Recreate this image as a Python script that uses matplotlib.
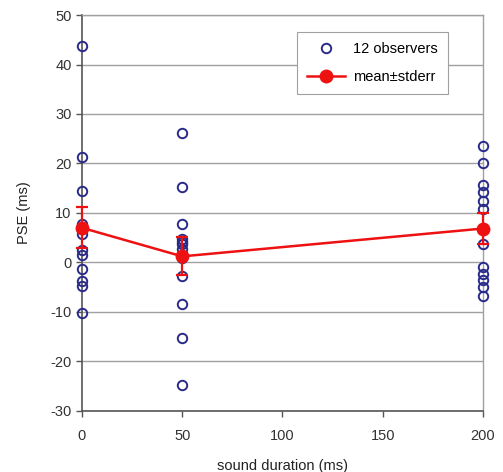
"""PSE versus sound duration, 12 observers plus mean and standard error."""

import matplotlib.pyplot as plt
import numpy as np
from matplotlib.lines import Line2D

durations = [0, 50, 200]
pse_0 = [43.8, 21.3, 14.5, 7.8, 6.8, 5.8, 2.4, 1.4, -1.4, -3.7, -4.8, -10.2]
pse_50 = [26.2, 15.3, 7.8, 4.8, 4.2, 3.8, 2.7, 0.9, -2.7, -8.5, -15.3, -24.8]
pse_200 = [23.6, 20.1, 15.6, 14.2, 12.5, 10.8, 3.8, -0.9, -2.3, -3.6, -5.0, -6.8]

x_ticks = [0, 50, 100, 150, 200]
y_ticks = [-30, -20, -10, 0, 10, 20, 30, 40, 50]

plt.rcParams["font.family"] = ["Liberation Sans", "DejaVu Sans"]
plt.rcParams["axes.unicode_minus"] = False

observers = [pse_0, pse_50, pse_200]
means = [np.mean(v) for v in observers]
stderr = [np.std(v, ddof=1) / np.sqrt(len(v)) for v in observers]

blue = "#2a2a8a"
red = "#ee1111"

fig = plt.figure(figsize=(5.03, 4.72), dpi=100)
ax = fig.add_axes([0.163, 0.130, 0.797, 0.838])

for i, d in enumerate(durations):
    ax.plot([d] * len(observers[i]), observers[i], "o", ms=6.8, mfc="none",
            mec=blue, mew=1.4, clip_on=False, zorder=3)

ax.errorbar(durations, means, yerr=stderr, color=red, lw=1.8,
            marker="o", ms=9, mfc=red, mec=red, capsize=4,
            capthick=1.6, elinewidth=1.6, clip_on=False, zorder=4)

ax.set_xlim(0, 200)
ax.set_ylim(-30, 50)
ax.set_xticks(x_ticks)
ax.set_yticks(y_ticks)
ax.grid(True, axis="y", color="#a0a0a0", lw=1.0)
ax.set_axisbelow(True)

for side in ["top", "right"]:
    ax.spines[side].set_color("#a0a0a0")
    ax.spines[side].set_linewidth(1.0)
for side in ["left", "bottom"]:
    ax.spines[side].set_color("#555555")
    ax.spines[side].set_linewidth(1.2)

ax.tick_params(direction="out", length=4, width=1, color="#555555",
               labelsize=10.5, labelcolor="#333333")
ax.tick_params(axis="x", pad=9)
ax.set_xlabel("sound duration (ms)", fontsize=10.5, color="#222222", labelpad=12)
ax.set_ylabel("PSE (ms)", fontsize=10.5, color="#222222", labelpad=14)

handles = [
    Line2D([], [], ls="none", marker="o", ms=6.8, mfc="none", mec=blue, mew=1.4),
    Line2D([], [], color=red, lw=1.8, marker="o", ms=9, mfc=red, mec=red),
]
leg = ax.legend(handles, ["12 observers", "mean\u00b1stderr"], loc="upper right",
                bbox_to_anchor=(0.93, 0.975), fontsize=10.5, frameon=True,
                fancybox=False, edgecolor="#a0a0a0", framealpha=1,
                handlelength=2.6, handletextpad=0.5, borderpad=0.7,
                labelspacing=0.9)
leg.get_frame().set_linewidth(0.8)

fig.savefig("out.png", dpi=100)
